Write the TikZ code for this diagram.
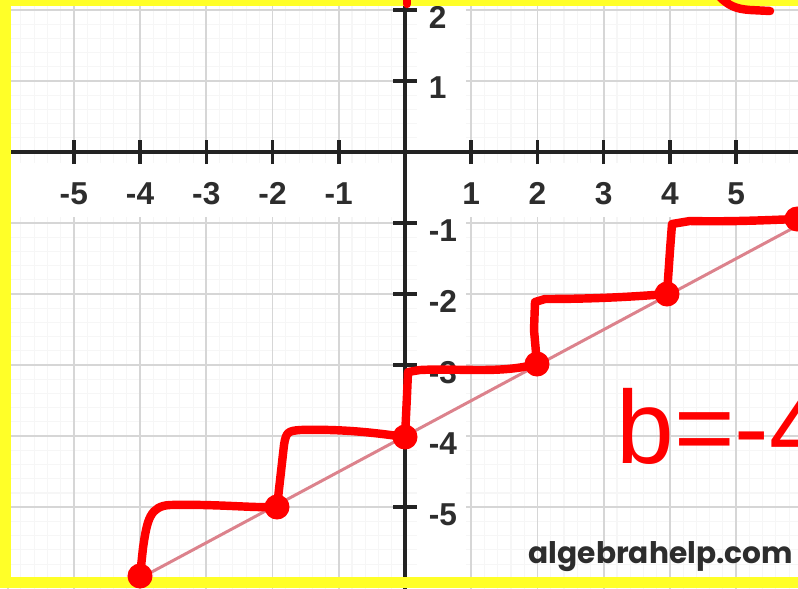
\documentclass[tikz,border=0pt]{standalone}
\usepackage{fontspec}
\usepackage{graphicx}
\newfontfamily\labfont{Liberation Sans}
\newfontfamily\wmfont{Poppins}
\newfontfamily\handfont{Liberation Sans}
\definecolor{ybord}{RGB}{255,255,40}
\definecolor{pen}{RGB}{255,0,0}
\definecolor{pinkline}{RGB}{220,130,140}
\definecolor{majgrid}{RGB}{214,214,214}
\definecolor{mingrid}{RGB}{246,246,246}
\definecolor{axiscol}{RGB}{35,35,35}
\definecolor{labcol}{RGB}{45,45,45}
\definecolor{wmcol}{RGB}{45,45,45}
\begin{document}
\begin{tikzpicture}[x=0.01cm,y=-0.01cm,
  pendot/.style={circle,fill=pen,inner sep=0pt,minimum size=0.25cm},
  penline/.style={draw=pen,line width=2.4pt,line cap=round,line join=round},
  axisline/.style={draw=axiscol,line width=1pt},
  ticklab/.style={font=\labfont\bfseries\fontsize{9}{10}\selectfont,text=labcol,inner sep=0pt},
]
\useasboundingbox (0,0) rectangle (798,588);
\clip (0,0) rectangle (798,588);
\fill[white] (0,0) rectangle (798,588);
\begin{scope}[shift={(405,152)},x=0.662cm,y=0.71cm]
  \draw[mingrid,line width=0.3pt] (-6.2,-6.2) grid[step=0.2] (6.2,2.2);
  \draw[majgrid,line width=0.55pt] (-6.2,-6.2) grid[step=1] (6.2,2.2);
  \fill[white] (-6.2,-0.16) rectangle (6.2,-0.92);
  \fill[white] (0.18,-6.2) rectangle (0.92,2.2);
  \draw[axisline] (-6.3,0) -- (6.3,0);
  \draw[axisline] (0,-6.3) -- (0,2.3);
  \foreach \i in {-6,...,-1,1,2,...,6} \draw[axisline] (\i,-0.17) -- (\i,0.17);
  \foreach \j in {-6,...,-1,1,2} \draw[axisline] (-0.18,\j) -- (0.18,\j);
  \foreach \i in {-5,...,-1,1,2,...,5} \node[ticklab] (xl\i) at (\i,-0.59) {\i};
  \foreach \j in {2,1,-1,-2,-3,-4,-5} \node[ticklab,anchor=west] (yl\j) at (0.35,\j-0.1) {\j};
  \draw[pinkline,line width=0.85pt] (-4,-6) -- (6,-1);
\end{scope}
% yellow frame
\fill[ybord] (0,0) rectangle (11,588);
\fill[ybord] (0,0) rectangle (798,6);
\fill[ybord] (0,577) rectangle (798,588);
% watermark
\node[anchor=base west,inner sep=0pt,text=wmcol] (wm) at (528,563) {\resizebox{2.64cm}{!}{\wmfont\bfseries algebrahelp.com}};
% red pen marks
\node[pendot] (d1) at (140,576) {};
\node[pendot] (d2) at (277,507) {};
\node[pendot] (d3) at (405,437) {};
\node[pendot] (d4) at (537,364) {};
\node[pendot] (d5) at (667,294) {};
\node[pendot] (d6) at (797,219) {};
\draw[penline] (d1.center) -- (143,548) .. controls (147,520) and (150,506) .. (170,505) .. controls (220,504) and (250,508) .. (d2.center);
\draw[penline] (d2.center) -- (284,445) .. controls (286,432) and (288,431) .. (300,430) .. controls (340,429) and (370,432) .. (d3.center);
\draw[penline] (d3.center) -- (407,395) -- (408,372) -- (420,370) .. controls (460,368) and (500,374) .. (d4.center);
\draw[penline] (d4.center) -- (534,330) -- (535,302) -- (545,299) .. controls (590,299) and (630,297) .. (d5.center);
\draw[penline] (d5.center) -- (670,250) -- (672,224) -- (690,221) .. controls (730,222) and (770,220) .. (d6.center);
\draw[penline] (407,-4) -- (407,4);
\draw[penline] (720,-3) .. controls (728,5) and (735,9) .. (750,10) -- (770,11);
\node[text=pen,font=\handfont\fontsize{29.5}{32}\selectfont,anchor=base west,inner sep=0pt] (bval) at (616,463) {b=-4};
\end{tikzpicture}
\end{document}
